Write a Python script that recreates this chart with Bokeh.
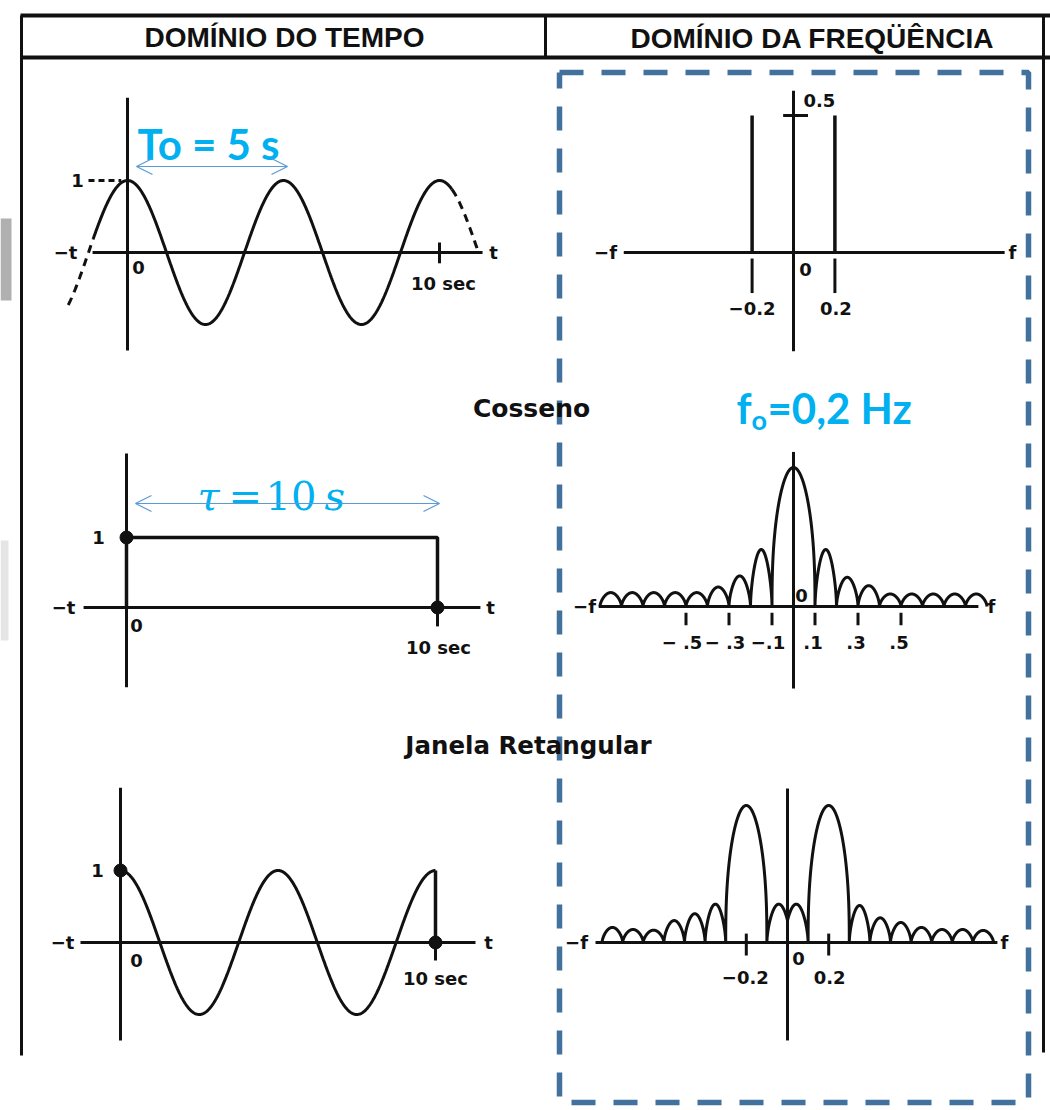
import numpy as np
from bokeh.plotting import figure
from bokeh.models import Range1d, Label, Arrow, OpenHead
from bokeh.embed import file_html
from bokeh.resources import INLINE

# ------------------------------------------------------------------ data
T0 = 5.0            # period of the cosine (s)
TAU = 10.0          # rectangular window length (s)
F0 = 0.2            # cosine frequency (Hz)
AMP = 1.0

cos_solid_span = [-1.1, 10.4]
cos_dash_left_span = [-1.9, -1.1]
cos_dash_right_span = [10.4, 11.25]

spike_f = [-0.2, 0.2]
spike_a = [0.5, 0.5]
cos_spec_ticks = [-0.2, 0.2]
cos_spec_tick_labels = ["\u22120.2", "0.2"]

rect_t = [0.0, 0.0, 10.0, 10.0]
rect_y = [0.0, 1.0, 1.0, 0.0]
rect_dot_t = [0.0, 10.0]
rect_dot_y = [1.0, 0.0]

sinc_lobe_start = [-0.9, -0.8, -0.7, -0.6, -0.5, -0.4, -0.3, -0.2, -0.1,
                   0.1, 0.2, 0.3, 0.4, 0.5, 0.6, 0.7, 0.8]
sinc_lobe_end = [-0.8, -0.7, -0.6, -0.5, -0.4, -0.3, -0.2, -0.1, 0.1,
                 0.2, 0.3, 0.4, 0.5, 0.6, 0.7, 0.8, 0.9]
sinc_lobe_height = [0.10, 0.10, 0.10, 0.10, 0.10, 0.14, 0.22, 0.41, 1.00,
                    0.41, 0.21, 0.15, 0.09, 0.09, 0.09, 0.09, 0.09]
sinc_ticks = [-0.5, -0.3, -0.1, 0.1, 0.3, 0.5]
sinc_tick_labels = ["\u2212 .5", "\u2212 .3", "\u2212.1", ".1", ".3", ".5"]

win_dot_t = [0.0, 10.0]
win_dot_y = [1.0, 0.0]

win_lobe_start = [-0.9, -0.8, -0.7, -0.6, -0.5, -0.4, -0.3, -0.1, -0.015,
                  0.1, 0.3, 0.4, 0.5, 0.6, 0.7, 0.8, 0.9]
win_lobe_end = [-0.8, -0.7, -0.6, -0.5, -0.4, -0.3, -0.1, 0.015, 0.1,
                0.3, 0.4, 0.5, 0.6, 0.7, 0.8, 0.9, 1.0]
win_lobe_height = [0.11, 0.095, 0.09, 0.16, 0.21, 0.28, 1.00, 0.28, 0.28,
                   1.00, 0.27, 0.18, 0.146, 0.11, 0.095, 0.095, 0.088]
win_ticks = [-0.2, 0.2]
win_tick_labels = ["\u22120.2", "0.2"]

# ------------------------------------------------------------------ layout
W, H = 1050, 1110
PANELS = {
    "p1": dict(ox=127, oy=252, sx=31.2, sy=72),
    "p2": dict(ox=793, oy=252, sx=207, sy=274),
    "p3": dict(ox=126, oy=607, sx=31.1, sy=70),
    "p4": dict(ox=793, oy=606, sx=215, sy=139),
    "p5": dict(ox=120, oy=942, sx=31.5, sy=72),
    "p6": dict(ox=787, oy=942, sx=206, sy=137),
}

p = figure(width=W, height=H, x_range=Range1d(0, W), y_range=Range1d(H, 0),
           output_backend="svg", toolbar_location=None, min_border=0,
           x_axis_location=None, y_axis_location=None)
p.grid.visible = False
p.outline_line_color = None
p.background_fill_color = "white"

xr, yr = {}, {}
for n, g in PANELS.items():
    xr[n] = Range1d(-g["ox"] / g["sx"], (W - g["ox"]) / g["sx"])
    yr[n] = Range1d((g["oy"] - H) / g["sy"], g["oy"] / g["sy"])
p.extra_x_ranges = xr
p.extra_y_ranges = yr


def PX(n, x):
    g = PANELS[n]
    return g["ox"] + g["sx"] * x


def PY(n, y):
    g = PANELS[n]
    return g["oy"] - g["sy"] * y


def lw(n):
    return dict(x_range_name=n, y_range_name=n)


BLACK = "#111111"
BLUE = "#00B0F0"
ARROW = "#5B9BD5"
DASHBOX = "#41719C"


def label(x, y, text, size="18px", font="DejaVu Sans", style="bold",
          align="center", baseline="middle", color=BLACK):
    p.add_layout(Label(x=x, y=y, text=text, text_font=font,
                       text_font_size=size, text_font_style=style,
                       text_align=align, text_baseline=baseline,
                       text_color=color))


def axes(n, x0, x1, y0, y1, w=3):
    p.segment(x0=[x0, 0], y0=[0, y0], x1=[x1, 0], y1=[0, y1],
              line_color=BLACK, line_width=w, **lw(n))


def spectrum(starts, ends, heights):
    edges = np.array(starts + ends)
    f = np.union1d(np.linspace(min(starts), max(ends), 4000), edges)
    val = np.zeros_like(f)
    for a, b, h in zip(starts, ends, heights):
        u = (f - a) / (b - a)
        m = (u >= 0) & (u <= 1)
        e = 0.4 if h >= 0.9 else 0.6
        v = np.zeros_like(f)
        v[m] = h * np.clip(np.sin(np.pi * u[m]), 0, 1) ** e
        val = np.maximum(val, v)
    return f, val


# scan shading on the left edge
p.quad(left=[0, 0], right=[11, 8], top=[218, 540], bottom=[300, 640],
       fill_color=["#9c9c9c", "#dedede"], line_color=None, fill_alpha=0.8)

# ------------------------------------------------------------------ frame / header
p.segment(x0=[20, 20, 21, 1043, 545], y0=[15, 57, 15, 15, 15],
          x1=[1050, 1050, 21, 1043, 545], y1=[15, 57, 1055, 1052, 57],
          line_color=BLACK, line_width=[4, 4, 3, 3, 3])
label(284, 37, "DOMÍNIO DO TEMPO", size="28px", font="Liberation Sans")
label(812, 38, "DOMÍNIO DA FREQÜÊNCIA", size="28px", font="Liberation Sans")

# ------------------------------------------------------------------ panel 1: cosine
n = "p1"
axes(n, -1.12, 11.38, -1.36, 2.15)
t = np.linspace(cos_solid_span[0], cos_solid_span[1], 600)
p.line(t, AMP * np.cos(2 * np.pi * t / T0), line_color=BLACK, line_width=3, **lw(n))
for span in (cos_dash_left_span, cos_dash_right_span):
    t = np.linspace(span[0], span[1], 60)
    p.line(t, AMP * np.cos(2 * np.pi * t / T0), line_color=BLACK, line_width=3,
           line_dash="8 6", **lw(n))
p.segment(x0=[-1.25], y0=[AMP], x1=[-0.2], y1=[AMP], line_color=BLACK,
          line_width=3, line_dash="6 4", **lw(n))
p.segment(x0=[TAU], y0=[0.14], x1=[TAU], y1=[-0.15], line_color=BLACK,
          line_width=3, **lw(n))
label(PX(n, 0) - 50, PY(n, AMP), "1")
label(65, PY(n, 0), "\u2212t")
label(493, PY(n, 0), "t")
label(PX(n, 0) + 11, PY(n, 0) + 15, "0")
label(PX(n, TAU) + 4, PY(n, 0) + 31, "10 sec")
label(137, 143, "To = 5 s", size="42px", font="Lato", align="left",
      baseline="alphabetic", color=BLUE)
p.add_layout(Arrow(start=OpenHead(size=16, line_color=ARROW, line_width=1.2),
                   end=OpenHead(size=16, line_color=ARROW, line_width=1.2),
                   x_start=136, y_start=166, x_end=287, y_end=166,
                   line_color=ARROW, line_width=1.2))

# ------------------------------------------------------------------ panel 2: cosine spectrum
n = "p2"
axes(n, -0.82, 1.02, -0.36, 0.59)
p.segment(x0=spike_f, y0=[0, 0], x1=spike_f, y1=spike_a, line_color=BLACK,
          line_width=3.5, **lw(n))
p.segment(x0=cos_spec_ticks, y0=[-0.022] * 2, x1=cos_spec_ticks, y1=[-0.148] * 2,
          line_color=BLACK, line_width=3, **lw(n))
p.segment(x0=[-0.05], y0=[0.5], x1=[0.07], y1=[0.5], line_color=BLACK,
          line_width=3, **lw(n))
label(PX(n, 0) + 10, PY(n, 0.5) - 15, "0.5", align="left")
for v, s in zip(cos_spec_ticks, cos_spec_tick_labels):
    label(PX(n, v) + (0 if v < 0 else 1), PY(n, 0) + 56, s)
label(PX(n, 0) + 12, PY(n, 0) + 17, "0")
label(605, PY(n, 0), "\u2212f")
label(1012, PY(n, 0), "f")
label(736, 407, "f", size="42px", font="Lato", align="left",
      baseline="alphabetic", color=BLUE)
label(751, 419, "o", size="27px", font="Lato", align="left",
      baseline="alphabetic", color=BLUE)
label(767, 407, "=0,2 Hz", size="42px", font="Lato", align="left",
      baseline="alphabetic", color=BLUE)

label(531, 408, "Cosseno", size="25px")

# ------------------------------------------------------------------ panel 3: rectangular window
n = "p3"
axes(n, -1.38, 11.38, -1.14, 2.2)
p.line(rect_t, rect_y, line_color=BLACK, line_width=3.5, **lw(n))
p.segment(x0=[TAU], y0=[-0.08], x1=[TAU], y1=[-0.27], line_color=BLACK,
          line_width=3, **lw(n))
p.scatter(rect_dot_t, rect_dot_y, size=13, color=BLACK, **lw(n))
label(PX(n, 0) - 28, PY(n, 1), "1")
label(63, PY(n, 0), "\u2212t")
label(490, PY(n, 0), "t")
label(PX(n, 0) + 10, PY(n, 0) + 18, "0")
label(PX(n, TAU) + 1, PY(n, 0) + 40, "10 sec")
label(197, 495, "\u03c4", size="40px", font="DejaVu Serif", style="italic",
      align="left", baseline="alphabetic", color=BLUE)
label(228, 495, "=", size="40px", font="DejaVu Serif", style="normal",
      align="left", baseline="alphabetic", color=BLUE)
label(265, 495, "10", size="40px", font="DejaVu Serif", style="normal",
      align="left", baseline="alphabetic", color=BLUE)
label(324, 495, "s", size="40px", font="DejaVu Serif", style="italic",
      align="left", baseline="alphabetic", color=BLUE)
p.add_layout(Arrow(start=OpenHead(size=16, line_color=ARROW, line_width=1.2),
                   end=OpenHead(size=16, line_color=ARROW, line_width=1.2),
                   x_start=135, y_start=503, x_end=439, y_end=503,
                   line_color=ARROW, line_width=1.2))

# ------------------------------------------------------------------ panel 4: sinc spectrum
n = "p4"
axes(n, -0.906, 0.860, -0.59, 1.112)
f, v = spectrum(sinc_lobe_start, sinc_lobe_end, sinc_lobe_height)
p.line(f, v, line_color=BLACK, line_width=3, line_join="round", **lw(n))
p.segment(x0=sinc_ticks, y0=[-0.045] * 6, x1=sinc_ticks, y1=[-0.135] * 6,
          line_color=BLACK, line_width=3, **lw(n))
for tv, s in zip(sinc_ticks, sinc_tick_labels):
    label(PX(n, tv) - (4 if tv < 0 else 2), PY(n, 0) + 36, s)
label(PX(n, 0) + 8, PY(n, 0) - 11, "0")
label(584, PY(n, 0), "\u2212f")
label(991, PY(n, 0), "f")

label(528, 745, "Janela Retangular", size="24.5px")

# ------------------------------------------------------------------ panel 5: windowed cosine
n = "p5"
axes(n, -1.27, 11.27, -1.36, 2.15)
t = np.linspace(0, TAU, 600)
p.line(t, AMP * np.cos(2 * np.pi * t / T0), line_color=BLACK, line_width=3, **lw(n))
p.segment(x0=[TAU], y0=[AMP], x1=[TAU], y1=[0], line_color=BLACK,
          line_width=3.5, **lw(n))
p.segment(x0=[TAU], y0=[-0.05], x1=[TAU], y1=[-0.25], line_color=BLACK,
          line_width=3, **lw(n))
p.scatter(win_dot_t, win_dot_y, size=13, color=BLACK, **lw(n))
label(PX(n, 0) - 23, PY(n, 1), "1")
label(62, PY(n, 0), "\u2212t")
label(488, PY(n, 0), "t")
label(PX(n, 0) + 16, PY(n, 0) + 18, "0")
label(PX(n, TAU) + 0, PY(n, 0) + 36, "10 sec")

# ------------------------------------------------------------------ panel 6: windowed cosine spectrum
n = "p6"
axes(n, -0.932, 1.019, -0.715, 1.124)
f, v = spectrum(win_lobe_start, win_lobe_end, win_lobe_height)
p.line(f, v, line_color=BLACK, line_width=3, line_join="round", **lw(n))
p.segment(x0=win_ticks, y0=[0.065] * 2, x1=win_ticks, y1=[-0.095] * 2,
          line_color=BLACK, line_width=3, **lw(n))
for tv, s in zip(win_ticks, win_tick_labels):
    label(PX(n, tv) + (-1 if tv < 0 else 1), PY(n, 0) + 35, s)
label(PX(n, 0) + 11, PY(n, 0) + 16, "0")
label(576, PY(n, 0), "\u2212f")
label(1004, PY(n, 0), "f")

# ------------------------------------------------------------------ blue dashed frequency box
p.line([559, 1028, 1028, 559, 559], [72, 72, 1102, 1102, 72],
       line_color=DASHBOX, line_width=5.5, line_dash="24 18")

open("out.html", "w").write(file_html(p, INLINE))
